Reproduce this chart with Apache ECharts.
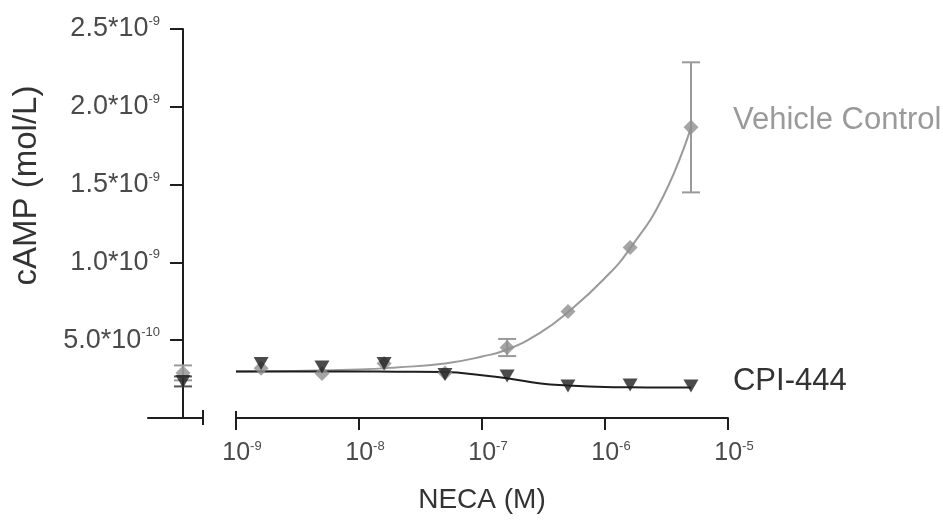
<!DOCTYPE html>
<html>
<head>
<meta charset="utf-8">
<script src="https://cdn.jsdelivr.net/npm/echarts@6/dist/echarts.min.js"></script>
<style>
html,body{margin:0;padding:0;background:#fff;}
#c{width:943px;height:523px;}
</style>
</head>
<body>
<div id="c"></div>
<script>
// ---- data ----
const conc = [1.6e-9, 5e-9, 1.6e-8, 5e-8, 1.6e-7, 5e-7, 1.6e-6, 5e-6];
const vehicleMean = [3.2e-10, 2.86e-10, 3.5e-10, 2.9e-10, 4.53e-10, 6.85e-10, 1.096e-9, 1.868e-9];
const vehicleErr  = [null, null, null, null, 5.5e-11, null, null, 4.18e-10];
const cpiMean     = [3.5e-10, 3.28e-10, 3.5e-10, 2.8e-10, 2.7e-10, 2.06e-10, 2.12e-10, 2.06e-10];
const cpiErr      = [null, null, null, null, null, null, null, null];

// control (no NECA) points, drawn on the separate left segment
const ctrlX = 0;
const ctrlVehicleMean = 2.9e-10, ctrlVehicleErr = 4.8e-11;
const ctrlCpiMean = 2.35e-10, ctrlCpiErr = 3.2e-11;

// fitted curves
const fitX       = [1e-9, 3e-9, 1e-8, 2e-8, 5e-8, 1e-7, 1.6e-7, 3e-7, 5e-7, 1e-6, 1.6e-6, 3e-6, 5e-6];
const vehicleFit = [2.99e-10, 3.02e-10, 3.12e-10, 3.25e-10, 3.5e-10, 3.95e-10, 4.4e-10, 5.5e-10, 6.8e-10, 9.0e-10, 1.09e-9, 1.43e-9, 1.868e-9];
const cpiFit     = [2.99e-10, 2.99e-10, 2.99e-10, 2.98e-10, 2.95e-10, 2.75e-10, 2.56e-10, 2.22e-10, 2.09e-10, 1.99e-10, 1.97e-10, 1.96e-10, 1.96e-10];

// tick labels
const yTickMantissa = {"5e-10": "5.0", "1e-9": "1.0", "1.5e-9": "1.5", "2e-9": "2.0", "2.5e-9": "2.5"};
const yTickExp      = {"5e-10": "-10", "1e-9": "-9", "1.5e-9": "-9", "2e-9": "-9", "2.5e-9": "-9"};
const xTickExps     = ["-9", "-8", "-7", "-6", "-5"];

const seriesNames = ["Vehicle Control", "CPI-444"];
const xTitle = "NECA (M)";
const yTitle = "cAMP (mol/L)";

// ---- chart ----
const FONT = "Liberation Sans";
const GRAY = "#9a9a9a";
const GRAYM = "#8e8e8e";
const DARK = "#1e1e1e";
const LABEL = "#4a4a4a";

function yKey(v){ return String(Number(v.toPrecision(3))); }

const chart = echarts.init(document.getElementById('c'), null, {renderer: 'canvas'});

function errRender(color){
  return function(params, api){
    const x = api.value(0), m = api.value(1), e = api.value(2);
    const top = api.coord([x, m + e]);
    const bot = api.coord([x, m - e]);
    const hw = 9;
    const style = {stroke: color, lineWidth: 2, fill: null};
    return {type: 'group', children: [
      {type: 'line', shape: {x1: top[0], y1: top[1], x2: bot[0], y2: bot[1]}, style: style},
      {type: 'line', shape: {x1: top[0]-hw, y1: top[1], x2: top[0]+hw, y2: top[1]}, style: style},
      {type: 'line', shape: {x1: bot[0]-hw, y1: bot[1], x2: bot[0]+hw, y2: bot[1]}, style: style}
    ]};
  };
}

const vehErrData = conc.map((c,i)=> vehicleErr[i] == null ? null : [c, vehicleMean[i], vehicleErr[i]]).filter(Boolean);
const cpiErrData = conc.map((c,i)=> cpiErr[i] == null ? null : [c, cpiMean[i], cpiErr[i]]).filter(Boolean);

const option = {
  animation: false,
  backgroundColor: '#fff',
  textStyle: {fontFamily: FONT},
  grid: [
    {left: 148, top: 29, width: 55, height: 389, outerBoundsMode: 'none', containLabel: false},
    {left: 236, top: 29, width: 492, height: 389, outerBoundsMode: 'none', containLabel: false}
  ],
  xAxis: [
    { // left segment (control)
      gridIndex: 0, type: 'value', min: -7, max: 4, position: 'bottom',
      axisLine: {show: true, lineStyle: {color: DARK, width: 2}},
      axisTick: {show: true, customValues: [4], length: 7, lineStyle: {color: DARK, width: 2}},
      axisLabel: {show: false}, splitLine: {show: false}
    },
    {
      gridIndex: 0, type: 'value', min: -7, max: 4, position: 'bottom',
      axisLine: {show: false},
      axisTick: {show: true, inside: true, customValues: [4], length: 8, lineStyle: {color: DARK, width: 2}},
      axisLabel: {show: false}, splitLine: {show: false}
    },
    { // main log axis
      gridIndex: 1, type: 'log', logBase: 10, min: 1e-9, max: 1e-5, position: 'bottom',
      axisLine: {show: true, lineStyle: {color: DARK, width: 2}},
      axisTick: {show: true, length: 12, lineStyle: {color: DARK, width: 2}},
      minorTick: {show: false},
      splitLine: {show: false},
      axisLabel: {
        margin: 22,
        formatter: function(v){
          const e = Math.round(Math.log10(v));
          const lab = xTickExps.find(s => Number(s) === e);
          return '{b|10}{s|' + lab + '}';
        },
        rich: {
          b: {fontSize: 25, color: LABEL, fontFamily: FONT, padding: [0, 0, 0, 12]},
          s: {fontSize: 13, color: LABEL, fontFamily: FONT, padding: [0, 0, 14, 0]}
        }
      },
      name: xTitle, nameLocation: 'middle', nameGap: 68, nameMoveOverlap: false,
      nameTextStyle: {fontSize: 28, color: '#333', fontFamily: FONT}
    },
    {
      gridIndex: 1, type: 'log', logBase: 10, min: 1e-9, max: 1e-5, position: 'bottom',
      axisLine: {show: false},
      axisTick: {show: true, inside: true, customValues: [1e-9], length: 7, lineStyle: {color: DARK, width: 2}},
      axisLabel: {show: false}, splitLine: {show: false}
    }
  ],
  yAxis: [
    {
      gridIndex: 0, type: 'value', min: 0, max: 2.5e-9, interval: 5e-10,
      axisLine: {show: true, onZero: true, lineStyle: {color: DARK, width: 2}},
      axisTick: {show: true, length: 13, lineStyle: {color: DARK, width: 2}},
      splitLine: {show: false},
      axisLabel: {
        margin: -12,
        formatter: function(v){
          if (v === 0) return '';
          const k = yKey(v);
          return '{b|' + yTickMantissa[k] + '*10}{s|' + yTickExp[k] + '}';
        },
        rich: {
          b: {fontSize: 27, color: LABEL, fontFamily: FONT},
          s: {fontSize: 13, color: LABEL, fontFamily: FONT, padding: [0, 0, 15, 0]}
        }
      },
      name: yTitle, nameLocation: 'middle', nameGap: 105, nameRotate: 90, nameMoveOverlap: false,
      nameTextStyle: {fontSize: 33, color: '#333', fontFamily: FONT, padding: [0, 0, 0, 76]}
    },
    {gridIndex: 1, type: 'value', min: 0, max: 2.5e-9, show: false}
  ],
  series: [
    {
      name: seriesNames[0] + ' fit', type: 'line', xAxisIndex: 2, yAxisIndex: 1,
      data: fitX.map((x,i)=>[x, vehicleFit[i]]), smooth: true, symbol: 'none',
      lineStyle: {color: GRAY, width: 2}, z: 2,
      endLabel: {show: true, formatter: seriesNames[0], color: GRAY, fontSize: 31, fontFamily: FONT, offset: [34, -7]}
    },
    {
      name: seriesNames[1] + ' fit', type: 'line', xAxisIndex: 2, yAxisIndex: 1,
      data: fitX.map((x,i)=>[x, cpiFit[i]]), smooth: true, symbol: 'none',
      lineStyle: {color: DARK, width: 2}, z: 3,
      endLabel: {show: true, formatter: seriesNames[1], color: '#333', fontSize: 31, fontFamily: FONT, offset: [34, -6]}
    },
    {
      name: seriesNames[0] + ' err', type: 'custom', xAxisIndex: 2, yAxisIndex: 1,
      renderItem: errRender(GRAY), data: vehErrData, z: 4
    },
    {
      name: seriesNames[1] + ' err', type: 'custom', xAxisIndex: 2, yAxisIndex: 1,
      renderItem: errRender(DARK), data: cpiErrData, z: 4
    },
    {
      name: seriesNames[0], type: 'scatter', xAxisIndex: 2, yAxisIndex: 1,
      data: conc.map((x,i)=>[x, vehicleMean[i]]), symbol: 'diamond', symbolSize: [15, 15],
      itemStyle: {color: GRAYM}, z: 5
    },
    {
      name: seriesNames[1], type: 'scatter', xAxisIndex: 2, yAxisIndex: 1,
      data: conc.map((x,i)=>[x, cpiMean[i]]), symbol: 'triangle', symbolRotate: 180, symbolSize: [15, 13],
      itemStyle: {color: DARK}, z: 6
    },
    {
      name: 'ctrl err v', type: 'custom', xAxisIndex: 0, yAxisIndex: 0,
      renderItem: errRender(GRAY), data: [[ctrlX, ctrlVehicleMean, ctrlVehicleErr]], z: 4
    },
    {
      name: 'ctrl err c', type: 'custom', xAxisIndex: 0, yAxisIndex: 0,
      renderItem: errRender('#555'), data: [[ctrlX, ctrlCpiMean, ctrlCpiErr]], z: 4
    },
    {
      name: 'ctrl v', type: 'scatter', xAxisIndex: 0, yAxisIndex: 0,
      data: [[ctrlX, ctrlVehicleMean]], symbol: 'diamond', symbolSize: [15, 15],
      itemStyle: {color: GRAYM}, z: 5
    },
    {
      name: 'ctrl c', type: 'scatter', xAxisIndex: 0, yAxisIndex: 0,
      data: [[ctrlX, ctrlCpiMean]], symbol: 'triangle', symbolRotate: 180, symbolSize: [15, 13],
      itemStyle: {color: DARK}, z: 6
    }
  ]
};
chart.setOption(option);
</script>
</body>
</html>
